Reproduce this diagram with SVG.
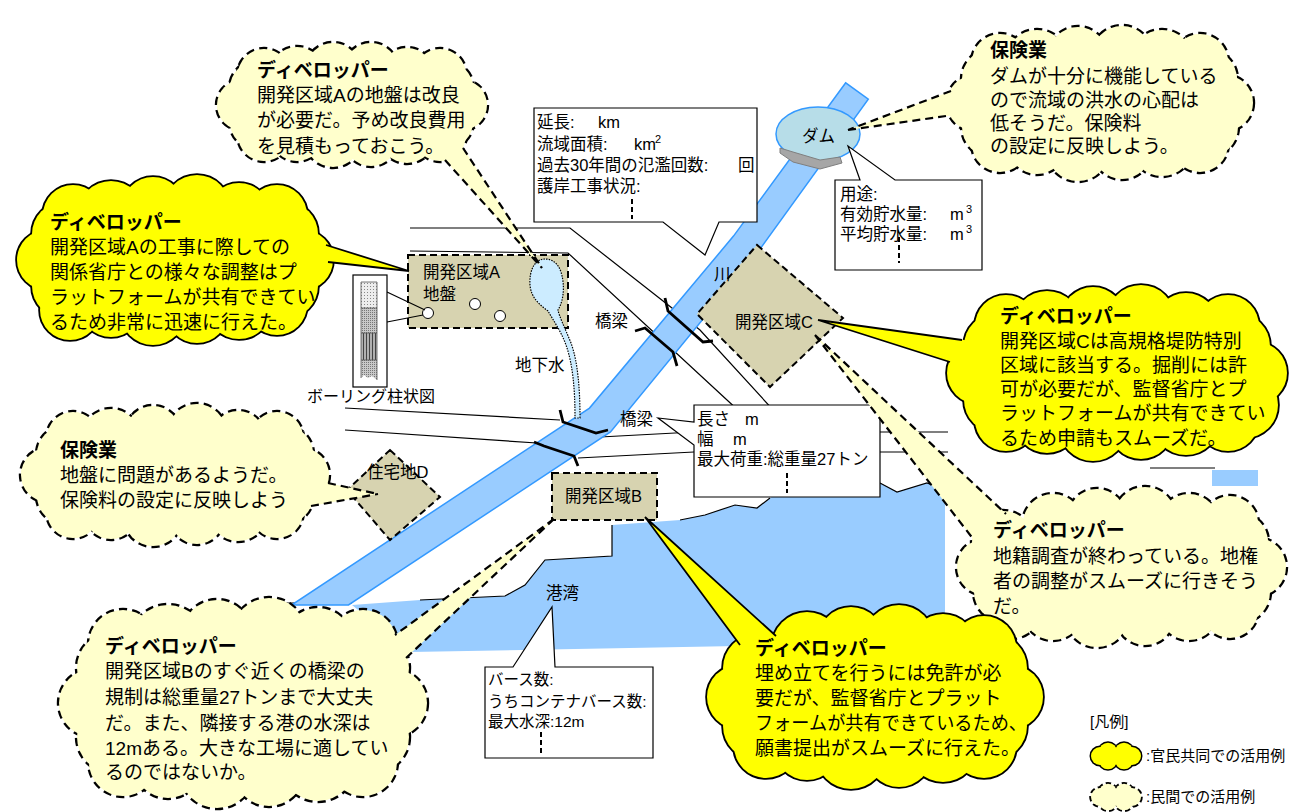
<svg xmlns="http://www.w3.org/2000/svg" xmlns:xlink="http://www.w3.org/1999/xlink" width="1290" height="812" viewBox="0 0 1290 812">
<style>
  .t{font-family:"Liberation Sans","Noto Sans CJK JP",sans-serif;fill:#000}
  .cl{font-size:19px}
  .ttl{font-size:19px;font-weight:bold}
  .bx{font-size:16.5px}
  .bs{font-size:15.5px}
  .lb{font-size:16.5px}
  .road{fill:none;stroke:#000;stroke-width:1.2}
  .rail{fill:none;stroke:#000;stroke-width:2.8;stroke-linejoin:miter}
  .callout{fill:#fff;stroke:#000;stroke-width:1.2}
  .vdash{stroke:#000;stroke-width:2;stroke-dasharray:5 3}
  .area{fill:#D7D3B0;stroke:#000;stroke-width:2;stroke-dasharray:7 4}
  .po{fill:#FFFFCC;stroke:#000;stroke-width:4.4;stroke-dasharray:8 5}
  .pf{fill:#FFFFCC;stroke:none}
  .yo{fill:#FFFF00;stroke:#000;stroke-width:3.6}
  .yf{fill:#FFFF00;stroke:none}
  .pw{fill:#FFFFCC;stroke:none}
  .pe{stroke:#000;stroke-width:2.2;stroke-dasharray:8 5;fill:none}
  .yw{fill:#FFFF00;stroke:none}
  .ye{stroke:#000;stroke-width:1.8;fill:none}
</style>
<defs>
  <pattern id="dots" width="3" height="3" patternUnits="userSpaceOnUse">
    <rect width="3" height="3" fill="#EDEDED"/><rect x="1" y="1" width="1" height="1" fill="#888"/>
  </pattern>
  <pattern id="dots2" width="2" height="2" patternUnits="userSpaceOnUse">
    <rect width="2" height="2" fill="#C8C8C8"/><rect width="1" height="1" fill="#777"/>
  </pattern>
  <pattern id="stripes" width="3" height="3" patternUnits="userSpaceOnUse">
    <rect width="3" height="3" fill="#B0B0B0"/><rect width="1" height="3" fill="#444"/>
  </pattern>
  <!-- cloud outlines built from overlapping circles -->
  <g id="c1">
    <circle cx="462" cy="105" r="25"/><circle cx="447" cy="122" r="26"/><circle cx="407" cy="135" r="28"/><circle cx="371" cy="139" r="27"/>
    <circle cx="333" cy="139" r="28"/><circle cx="297" cy="135" r="26"/><circle cx="257" cy="122" r="27"/><circle cx="242" cy="105" r="25"/>
    <circle cx="257" cy="88" r="27"/><circle cx="297" cy="75" r="28"/><circle cx="333" cy="70" r="27"/><circle cx="371" cy="70" r="27"/>
    <circle cx="407" cy="75" r="27"/><circle cx="447" cy="88" r="26"/>
    <circle cx="264" cy="135" r="26"/><circle cx="440" cy="135" r="26"/><circle cx="264" cy="75" r="26"/><circle cx="440" cy="75" r="26"/>
  </g>
  <g id="c2">
    <circle cx="1225" cy="103" r="28"/><circle cx="1208" cy="127" r="30"/><circle cx="1162" cy="145" r="31"/><circle cx="1122" cy="150" r="29"/>
    <circle cx="1078" cy="150" r="31"/><circle cx="1037" cy="145" r="29"/><circle cx="992" cy="127" r="30"/><circle cx="975" cy="103" r="28"/>
    <circle cx="992" cy="79" r="30"/><circle cx="1037" cy="61" r="31"/><circle cx="1078" cy="56" r="29"/><circle cx="1122" cy="56" r="30"/>
    <circle cx="1162" cy="61" r="31"/><circle cx="1208" cy="79" r="29"/>
    <circle cx="1000" cy="144" r="28"/><circle cx="1200" cy="144" r="28"/><circle cx="1000" cy="62" r="28"/><circle cx="1200" cy="62" r="28"/>
  </g>
  <g id="c3">
    <circle cx="303" cy="260" r="30"/><circle cx="286" cy="286" r="32"/><circle cx="239" cy="306" r="33"/><circle cx="197" cy="312" r="31"/>
    <circle cx="153" cy="312" r="33"/><circle cx="111" cy="306" r="31"/><circle cx="64" cy="286" r="32"/><circle cx="47" cy="260" r="30"/>
    <circle cx="64" cy="234" r="32"/><circle cx="111" cy="214" r="33"/><circle cx="153" cy="208" r="31"/><circle cx="197" cy="208" r="33"/>
    <circle cx="239" cy="214" r="31"/><circle cx="286" cy="234" r="32"/>
    <circle cx="70" cy="310" r="30"/><circle cx="277" cy="305" r="30"/><circle cx="73" cy="215" r="30"/><circle cx="277" cy="215" r="30"/>
  </g>
  <g id="c4">
    <circle cx="1256" cy="373" r="31"/><circle cx="1245" cy="405" r="33"/><circle cx="1186" cy="421" r="34"/><circle cx="1141" cy="427" r="32"/>
    <circle cx="1093" cy="427" r="34"/><circle cx="1047" cy="421" r="32"/><circle cx="997" cy="400" r="33"/><circle cx="978" cy="373" r="31"/>
    <circle cx="997" cy="346" r="33"/><circle cx="1047" cy="325" r="34"/><circle cx="1093" cy="319" r="32"/><circle cx="1141" cy="319" r="34"/>
    <circle cx="1186" cy="325" r="32"/><circle cx="1237" cy="346" r="33"/>
    <circle cx="1006" cy="420" r="31"/><circle cx="1228" cy="420" r="31"/><circle cx="1006" cy="326" r="31"/><circle cx="1228" cy="326" r="31"/>
  </g>
  <g id="c5">
    <circle cx="302" cy="475" r="27"/><circle cx="285" cy="496" r="28"/><circle cx="238" cy="512" r="29"/><circle cx="197" cy="517" r="27"/>
    <circle cx="153" cy="517" r="29"/><circle cx="111" cy="512" r="27"/><circle cx="65" cy="496" r="28"/><circle cx="48" cy="475" r="27"/>
    <circle cx="65" cy="454" r="28"/><circle cx="111" cy="438" r="29"/><circle cx="153" cy="433" r="27"/><circle cx="197" cy="433" r="29"/>
    <circle cx="238" cy="438" r="27"/><circle cx="285" cy="454" r="28"/>
    <circle cx="73" cy="512" r="26"/><circle cx="277" cy="512" r="26"/><circle cx="73" cy="438" r="26"/><circle cx="277" cy="438" r="26"/>
  </g>
  <g id="c6">
    <circle cx="1257" cy="567" r="29"/><circle cx="1239" cy="592" r="31"/><circle cx="1189" cy="610" r="30"/><circle cx="1145" cy="616" r="29"/>
    <circle cx="1097" cy="616" r="31"/><circle cx="1053" cy="610" r="30"/><circle cx="1003" cy="592" r="29"/><circle cx="985" cy="567" r="28"/>
    <circle cx="1003" cy="542" r="31"/><circle cx="1053" cy="524" r="30"/><circle cx="1097" cy="518" r="29"/><circle cx="1145" cy="518" r="31"/>
    <circle cx="1189" cy="524" r="30"/><circle cx="1239" cy="542" r="29"/>
    <circle cx="1230" cy="610" r="28"/><circle cx="1012" cy="610" r="28"/><circle cx="1230" cy="524" r="28"/>
  </g>
  <g id="c7">
    <circle cx="393" cy="703" r="34"/><circle cx="373" cy="737" r="36"/><circle cx="318" cy="763" r="38"/><circle cx="269" cy="771" r="35"/>
    <circle cx="217" cy="771" r="37"/><circle cx="168" cy="763" r="35"/><circle cx="113" cy="737" r="36"/><circle cx="93" cy="703" r="34"/>
    <circle cx="113" cy="668" r="36"/><circle cx="168" cy="643" r="38"/><circle cx="217" cy="635" r="35"/><circle cx="269" cy="635" r="37"/>
    <circle cx="318" cy="643" r="35"/><circle cx="373" cy="668" r="36"/>
    <circle cx="123" cy="762" r="34"/><circle cx="363" cy="762" r="34"/><circle cx="123" cy="644" r="34"/><circle cx="363" cy="644" r="34"/>
  </g>
  <g id="c8">
    <circle cx="1011" cy="697" r="32"/><circle cx="993" cy="726" r="34"/><circle cx="943" cy="747" r="35"/><circle cx="899" cy="754" r="33"/>
    <circle cx="851" cy="754" r="35"/><circle cx="807" cy="747" r="33"/><circle cx="757" cy="726" r="34"/><circle cx="739" cy="697" r="32"/>
    <circle cx="757" cy="668" r="34"/><circle cx="807" cy="647" r="35"/><circle cx="851" cy="640" r="33"/><circle cx="899" cy="640" r="35"/>
    <circle cx="943" cy="647" r="33"/><circle cx="993" cy="668" r="34"/>
    <circle cx="766" cy="746" r="32"/><circle cx="984" cy="746" r="32"/><circle cx="984" cy="648" r="32"/>
  </g>
  <g id="lg">
    <circle cx="1132" cy="0" r="9"/><circle cx="1124" cy="4.3" r="9"/><circle cx="1108" cy="4.3" r="9"/>
    <circle cx="1100" cy="0" r="9"/><circle cx="1108" cy="-4.3" r="9"/><circle cx="1124" cy="-4.3" r="9"/>
  </g>
</defs>

<rect width="1290" height="812" fill="#fff"/>

<!-- roads -->
<g id="roads" class="road">
  <path d="M410,228 H570 L700,330 L775,412"/>
  <path d="M410,251 L568,253 L740,412"/>
  <path d="M880,432 H948"/>
  <path d="M880,452 H948"/>
  <path d="M1150,468 H1215"/>
  <path d="M345,408 L560,420"/>
  <path d="M345,430 L537,443"/>
  <path d="M600,437 L694,432"/>
  <path d="M578,458 L694,452"/>
</g>

<!-- harbour and coast -->
<g id="harbor">
  <path d="M352,605 L420,600 L505,596 L525,585 L545,560 L612,556 L612,525 L680,520 L705,515 L735,505 L757,508 L770,498 L800,480 L880,483 L897,492 L927,483 L945,490 L945,642 L410,652 Z" fill="#99CCFF"/>
  <path d="M420,600 L505,596 L525,585 L545,560 L612,556 L612,525" class="road"/>
  <path d="M680,520 L705,515 L735,505 L757,508 L770,498 M880,483 L897,492 L927,483 L945,490" class="road"/>
  <path d="M280,603 L352,603" class="road"/>
  <rect x="1212" y="470" width="46" height="16" fill="#99CCFF"/>
</g>

<!-- river -->
<path id="river" d="M845.7,82.8 L733.5,236.1 L589.5,408.1 L291.5,605 L348.5,605 L610.5,431.9 L756.5,253.9 L868.3,99.2 Z" fill="#99CCFF" stroke="#3399FF" stroke-width="1.5"/>

<!-- bridges -->
<g id="bridges" class="rail">
  <path d="M665,298 L668,311 L703,342 L713,341"/>
  <path d="M635,331 L645,328 L673,352 L677,366"/>
  <path d="M560,410 L563,422 L596,433 L608,430"/>
  <path d="M534,442 L544,446 L574,456 L578,466"/>
</g>

<!-- dam -->
<g id="dam">
  <ellipse cx="818" cy="134" rx="42" ry="27" fill="#B7DDE8" stroke="#3399FF" stroke-width="1.5"/>
  <path d="M780,148 L793,152 L820,160 L840,157 L842,163 L820,169 L793,162 L780,153 Z" fill="#A6A6A6" stroke="#7F7F7F" stroke-width="1"/>
  <text class="t lb" x="802" y="142">ダム</text>
</g>

<!-- development area C -->
<g id="area-c">
  <path class="area" d="M757,245 L843,318 L770,387 L697,314 Z"/>
  <text class="t lb" x="735" y="328">開発区域C</text>
</g>

<!-- residential area D -->
<g id="area-d">
  <path class="area" d="M390,450 L440,497 L390,540 L347,490 Z"/>
  <text class="t lb" x="367" y="478">住宅地D</text>
</g>

<!-- development area B -->
<g id="area-b">
  <rect class="area" x="552" y="473" width="105" height="47"/>
  <text class="t lb" x="565" y="502">開発区域B</text>
</g>

<!-- development area A with pond and bore holes -->
<g id="area-a">
  <rect class="area" x="408" y="255" width="160" height="73"/>
  <text class="t lb" x="423" y="278">開発区域A</text>
  <text class="t lb" x="423" y="300">地盤</text>
  <circle cx="428" cy="313" r="5.5" fill="#fff" stroke="#000"/>
  <circle cx="475" cy="304" r="5.5" fill="#fff" stroke="#000"/>
  <circle cx="500" cy="316" r="5.5" fill="#fff" stroke="#000"/>
  <path d="M545,259 C535,259 529,270 530,285 C531,298 540,305 548,311 C553,320 561,331 566,345 C573,365 575,390 575,418 L580,418 C580,390 578,362 571,343 C565,328 559,316 558,310 C564,300 565,285 561,272 C558,263 552,259 545,259 Z" fill="#CCECFF" stroke="#000" stroke-width="1.2" stroke-dasharray="1.5 1.2"/>
  <text class="t lb" x="515" y="371">地下水</text>
</g>

<!-- boring log -->
<g id="boring">
  <path d="M387,292 L425,310 M387,322 L423,315" class="road"/>
  <rect x="353" y="275" width="34" height="112" fill="#fff" stroke="#000" stroke-width="1.2"/>
  <rect x="361" y="282" width="16" height="26" fill="url(#dots)"/>
  <rect x="361" y="308" width="16" height="25" fill="url(#dots2)"/>
  <rect x="361" y="333" width="16" height="27" fill="url(#stripes)"/>
  <path d="M361,360 H377 V380 L372,376 L368,378 L364,375 L361,378 Z" fill="url(#dots2)"/>
  <path d="M361,282 V378 M377,282 V380 M361,282 H377 M361,308 H377 M361,333 H377 M361,360 H377" fill="none" stroke="#555" stroke-width="0.8"/>
  <text class="t" style="font-size:16px" x="307" y="402">ボーリング柱状図</text>
</g>

<!-- map labels -->
<g id="labels">
  <text class="t lb" x="714" y="280">川</text>
  <text class="t lb" x="595" y="327">橋梁</text>
  <text class="t lb" x="620" y="425">橋梁</text>
  <text class="t lb" x="546" y="599">港湾</text>
</g>

<!-- river data callout -->
<g id="info-river">
  <path class="callout" d="M534,108 H757 V222 H719 L705,255 L663,222 H534 Z"/>
  <text class="t bx" x="537" y="128">延長:</text><text class="t bx" x="598" y="128">km</text>
  <text class="t bx" x="537" y="150">流域面積:</text><text class="t bx" x="634" y="150">km</text><text class="t" style="font-size:11px" x="655" y="143">2</text>
  <text class="t bx" x="537" y="171">過去30年間の氾濫回数:</text><text class="t bx" x="738" y="171">回</text>
  <text class="t bx" x="537" y="192">護岸工事状況:</text>
  <line class="vdash" x1="632" y1="199" x2="632" y2="219"/>
</g>

<!-- dam data callout -->
<g id="info-dam">
  <path class="callout" d="M835,180 H860 L848,146 L895,180 H982 V270 H835 Z"/>
  <text class="t bx" x="840" y="200">用途:</text>
  <text class="t bx" x="840" y="220">有効貯水量:</text><text class="t bx" x="950" y="220">m</text><text class="t" style="font-size:11px" x="966" y="213">3</text>
  <text class="t bx" x="840" y="240">平均貯水量:</text><text class="t bx" x="950" y="240">m</text><text class="t" style="font-size:11px" x="966" y="233">3</text>
  <line class="vdash" x1="899" y1="237" x2="899" y2="263"/>
</g>

<!-- bridge data callout -->
<g id="info-bridge">
  <path class="callout" d="M694,405 H880 V497 H694 V445 L658,418 L694,422 Z"/>
  <text class="t bx" x="697" y="425">長さ</text><text class="t bx" x="745" y="425">m</text>
  <text class="t bx" x="697" y="445">幅</text><text class="t bx" x="733" y="445">m</text>
  <text class="t bx" x="697" y="465">最大荷重:総重量27トン</text>
  <line class="vdash" x1="787" y1="473" x2="787" y2="493"/>
</g>

<!-- harbour data callout -->
<g id="info-harbor">
  <path class="callout" d="M485,667 H513 L552,607 L555,667 H653 V758 H485 Z"/>
  <text class="t bs" x="488" y="685">バース数:</text>
  <text class="t bs" x="488" y="707">うちコンテナバース数:</text>
  <text class="t bs" x="488" y="727">最大水深:12m</text>
  <line class="vdash" x1="541" y1="732" x2="541" y2="753"/>
</g>

<!-- comment clouds -->
<g id="cloud-dev-a-ground">
  <use href="#c1" class="po"/><use href="#c1" class="pf"/><ellipse cx="352" cy="105" rx="114" ry="39" class="pf"/>
  <path class="pw" d="M436,150 L461,145 L542,268 Z"/>
  <path class="pe" d="M445,160 L542,268 M463,148 L542,268"/>
  <text class="t ttl" x="257" y="77">ディベロッパー</text>
  <text class="t cl" x="257" y="102">開発区域Aの地盤は改良</text>
  <text class="t cl" x="257" y="127">が必要だ。予め改良費用</text>
  <text class="t cl" x="257" y="153">を見積もっておこう。</text>
</g>

<g id="cloud-ins-dam">
  <use href="#c2" class="po"/><use href="#c2" class="pf"/><ellipse cx="1100" cy="103" rx="129" ry="52" class="pf"/>
  <path class="pw" d="M962,87 L962,114 L848,130 Z"/>
  <path class="pe" d="M951,91 L848,130 M946,116 L848,130"/>
  <text class="t ttl" x="990" y="57">保険業</text>
  <text class="t cl" x="990" y="83">ダムが十分に機能している</text>
  <text class="t cl" x="990" y="107">ので流域の洪水の心配は</text>
  <text class="t cl" x="990" y="130">低そうだ。保険料</text>
  <text class="t cl" x="990" y="153">の設定に反映しよう。</text>
</g>

<g id="cloud-dev-a-works">
  <use href="#c3" class="yo"/><use href="#c3" class="yf"/><ellipse cx="175" cy="260" rx="132" ry="57" class="yf"/>
  <path class="yw" d="M312,240.6 L312,260.2 L409,271 Z"/>
  <path class="ye" d="M326,245 L409,271 M328,262 L409,271"/>
  <text class="t ttl" x="50" y="229">ディベロッパー</text>
  <text class="t cl" x="50" y="254">開発区域Aの工事に際しての</text>
  <text class="t cl" x="50" y="279">関係省庁との様々な調整はプ</text>
  <text class="t cl" x="50" y="304">ラットフォームが共有できてい</text>
  <text class="t cl" x="50" y="329">るため非常に迅速に行えた。</text>
</g>

<g id="cloud-dev-c">
  <use href="#c4" class="yo"/><use href="#c4" class="yf"/><ellipse cx="1117" cy="373" rx="143" ry="59" class="yf"/>
  <path class="yw" d="M818,320 L975,341.6 L965,366.5 Z"/>
  <path class="ye" d="M818,320 L962,340 M818,320 L950,362"/>
  <text class="t ttl" x="1000" y="323">ディベロッパー</text>
  <text class="t cl" x="1000" y="348">開発区域Cは高規格堤防特別</text>
  <text class="t cl" x="1000" y="372">区域に該当する。掘削には許</text>
  <text class="t cl" x="1000" y="396">可が必要だが、監督省庁とプ</text>
  <text class="t cl" x="1000" y="420">ラットフォームが共有できてい</text>
  <text class="t cl" x="1000" y="445">るため申請もスムーズだ。</text>
</g>

<g id="cloud-ins-d">
  <use href="#c5" class="po"/><use href="#c5" class="pf"/><ellipse cx="175" cy="475" rx="131" ry="47" class="pf"/>
  <path class="pw" d="M318,480.8 L300,508 L378,494 Z"/>
  <path class="pe" d="M328,483 L378,494 M311,506 L378,494"/>
  <text class="t ttl" x="60" y="457">保険業</text>
  <text class="t cl" x="60" y="482">地盤に問題があるようだ。</text>
  <text class="t cl" x="60" y="507">保険料の設定に反映しよう</text>
</g>

<g id="cloud-dev-c-land">
  <use href="#c6" class="po"/><use href="#c6" class="pf"/><ellipse cx="1121" cy="567" rx="140" ry="54" class="pf"/>
  <path class="pw" d="M815,335 L983.5,552 L1018,525 Z"/>
  <path class="pe" d="M815,335 L974,540 M815,335 L1006,514"/>
  <text class="t ttl" x="993" y="537">ディベロッパー</text>
  <text class="t cl" x="993" y="563">地籍調査が終わっている。地権</text>
  <text class="t cl" x="993" y="588">者の調整がスムーズに行きそう</text>
  <text class="t cl" x="993" y="613">だ。</text>
</g>

<g id="cloud-dev-b">
  <use href="#c7" class="po"/><use href="#c7" class="pf"/><ellipse cx="243" cy="703" rx="154" ry="73" class="pf"/>
  <path class="pw" d="M554,519 L383,644 L394,669 Z"/>
  <path class="pe" d="M554,519 L395,635 M554,519 L405,659"/>
  <text class="t ttl" x="105" y="653">ディベロッパー</text>
  <text class="t cl" x="105" y="678">開発区域Bのすぐ近くの橋梁の</text>
  <text class="t cl" x="105" y="704">規制は総重量27トンまで大丈夫</text>
  <text class="t cl" x="105" y="730">だ。また、隣接する港の水深は</text>
  <text class="t cl" x="105" y="755">12mある。大きな工場に適してい</text>
  <text class="t cl" x="105" y="779">るのではないか。</text>
</g>

<g id="cloud-dev-b-fill">
  <use href="#c8" class="yo"/><use href="#c8" class="yf"/><ellipse cx="875" cy="697" rx="140" ry="62" class="yf"/>
  <path class="yw" d="M645,517 L751,660 L791,650 Z"/>
  <path class="ye" d="M645,517 L740,645 M645,517 L776,636"/>
  <text class="t ttl" x="755" y="655">ディベロッパー</text>
  <text class="t cl" x="755" y="680">埋め立てを行うには免許が必</text>
  <text class="t cl" x="755" y="705">要だが、監督省庁とプラット</text>
  <text class="t cl" x="755" y="730" textLength="272" lengthAdjust="spacingAndGlyphs">フォームが共有できているため、</text>
  <text class="t cl" x="755" y="755">願書提出がスムーズに行えた。</text>
</g>

<!-- legend -->
<g id="legend">
  <text class="t" style="font-size:15px" x="1090" y="727">[凡例]</text>
  <g transform="translate(0,756)"><use href="#lg" class="yo" style="stroke-width:3"/><use href="#lg" class="yf"/><ellipse cx="1116" cy="0" rx="16" ry="5" class="yf"/></g>
  <text class="t" style="font-size:15px" x="1146" y="761">:官民共同での活用例</text>
  <g transform="translate(0,797)"><use href="#lg" class="po" style="stroke-width:3.6;stroke-dasharray:5 3"/><use href="#lg" class="pf"/><ellipse cx="1116" cy="0" rx="16" ry="5" class="pf"/></g>
  <text class="t" style="font-size:15px" x="1146" y="802">:民間での活用例</text>
</g>
</svg>
